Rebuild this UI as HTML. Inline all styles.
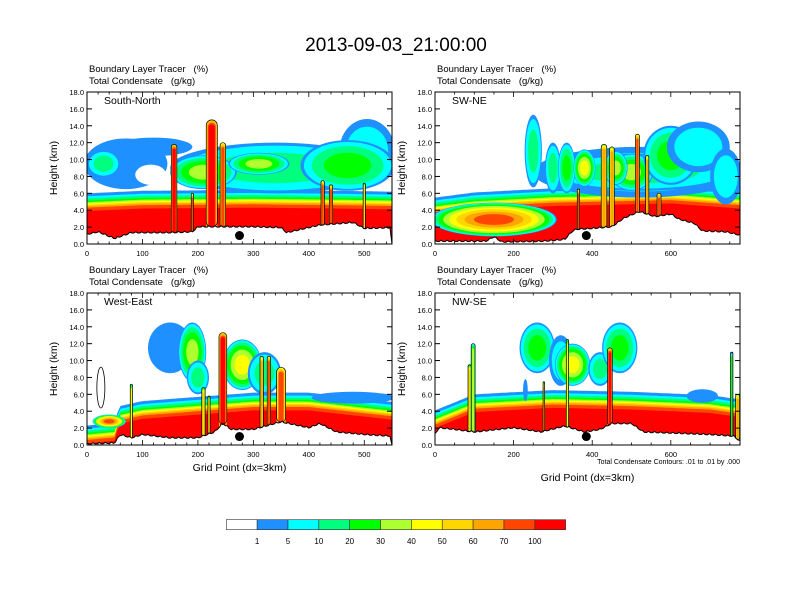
<!DOCTYPE html>
<html><head><meta charset="utf-8">
<style>
html,body{margin:0;padding:0;background:#fff;}
svg{display:block;font-family:"Liberation Sans",sans-serif;}
text{white-space:pre;}
</style></head>
<body>
<svg id="fig" width="792" height="612" viewBox="0 0 792 612" xmlns="http://www.w3.org/2000/svg">
<rect width="792" height="612" fill="#fff"/>
<text x="396" y="51" font-size="19" text-anchor="middle">2013-09-03_21:00:00</text>
<g id="panels"></g>
<g id="cbar"></g>
</svg>
<script>
const levelColors=["#ffffff","#1e90ff","#00ffff","#00ff7f","#00ff00","#adff2f","#ffff00","#ffd700","#ffa500","#ff4500","#ff0000"];
const cbarLabels=["1","5","10","20","30","40","50","60","70","100"];
const panelNames=["South-North","SW-NE","West-East","NW-SE"];
const panelXmax=[550,776,550,776];
// red boundary-layer top (grid, km)
const p1Pbl=[[0,3.9],[100,4.2],[300,4.3],[450,4.2],[550,4.1]];
const p2Pbl=[[0,3.4],[100,4.0],[300,4.5],[600,4.8],[776,4.2]];
const p3Pbl=[[0,0.2],[50,0.5],[58,2.5],[100,3.1],[200,3.6],[300,4.1],[400,4.1],[550,3.0]];
const p4Pbl=[[0,2.0],[100,3.9],[300,4.4],[500,4.2],[700,3.8],[776,3.3]];
// terrain (grid, km)
const p1Terrain=[[0,1.1],[20,1.4],[50,0.6],[80,1.3],[150,1.3],[190,1.4],[200,2.0],[300,2.0],[350,1.9],[360,1.3],[380,1.6],[420,2.2],[480,2.5],[500,1.8],[550,1.9]];
const p2Terrain=[[0,0.3],[130,0.3],[150,0.8],[170,0.2],[280,0.3],[330,0.5],[350,1.5],[360,1.7],[400,1.8],[450,2.0],[480,3.0],[520,3.8],[560,3.2],[600,3.5],[620,2.9],[660,2.4],[680,1.5],[740,1.4],[776,1.0]];
const p3Terrain=[[0,0.1],[50,0.2],[60,1.2],[80,0.8],[100,1.2],[150,0.8],[200,0.8],[230,1.5],[245,2.5],[260,1.8],[300,1.8],[350,2.7],[400,2.0],[420,2.5],[450,1.5],[500,1.2],[550,1.0]];
const p4Terrain=[[0,1.2],[10,2.0],[50,1.8],[100,1.5],[200,2.0],[270,1.5],[330,2.2],[380,1.5],[420,1.8],[450,2.5],[500,2.5],[530,1.5],[700,1.2],[760,1.0],[776,0.4]];
// cloud blobs: [x, z, half-width(grid), half-height(km), max level]
const p1Clouds=[[70,9.5,75,3,1],[120,11.5,70,1.1,1],[30,9.5,30,1.6,3],[340,9,190,3,3],[505,11,50,3.8,2],[470,9.3,85,3,4],[210,8.5,60,2,5],[310,9.5,55,1.3,5],[115,8.2,28,1.2,0]];
const p2Clouds=[[150,2.9,160,2.0,9],[520,8.5,270,3,2],[520,8.5,250,2.2,3],[250,11,22,4.3,3],[300,9,20,3,3],[335,9,22,3,4],[380,9,28,2.2,6],[500,8.5,55,2.2,5],[600,10.5,70,3.5,4],[670,11.5,80,3,2],[740,8,40,3.3,2],[460,9,30,2,5]];
const p3Clouds=[[150,11.5,40,3,1],[190,11,25,3.5,5],[200,8,20,2,3],[280,9.5,35,3,6],[320,8.5,30,2.5,3],[480,5.6,75,0.7,1],[40,2.8,30,0.8,9]];
const p4Clouds=[[260,11.5,45,3,4],[320,10,30,3,2],[350,9.5,45,2.5,6],[420,9,30,2,3],[470,11.5,45,3,4],[680,5.8,40,0.8,1],[230,6.5,6,1.3,1]];
// convective columns: [x, top km, half-width(grid), level]
const p1Cols=[[157,11.8,5,10],[225,14.7,10,10],[245,12,5,9],[190,6,2,9],[425,7.5,3,9],[440,7,3,9],[500,7.2,2,7]];
const p2Cols=[[430,11.8,7,8],[450,11.5,6,8],[515,13,5,9],[540,10.5,4,8],[365,6.5,3,9],[570,6,5,9]];
const p3Cols=[[245,13.3,7,10],[315,10.5,3,8],[328,10.5,3,9],[350,9.2,8,9],[210,6.8,3,7],[220,5.8,2,7],[80,7.2,2,6]];
const p4Cols=[[97,12,5,5],[88,9.5,4,7],[277,7.5,2,7],[337,12.5,3,6],[445,11.5,6,10],[755,11,3,4],[770,6,5,8]];
const dotX=[275,385,275,385];
const pbls=[p1Pbl,p2Pbl,p3Pbl,p4Pbl],terrs=[p1Terrain,p2Terrain,p3Terrain,p4Terrain],clouds=[p1Clouds,p2Clouds,p3Clouds,p4Clouds],cols=[p1Cols,p2Cols,p3Cols,p4Cols];

const NS="http://www.w3.org/2000/svg";
function mk(tag,attrs,parent){const e=document.createElementNS(NS,tag);for(const k in attrs)e.setAttribute(k,attrs[k]);parent.appendChild(e);return e;}
function interp(arr,x){if(x<=arr[0][0])return arr[0][1];for(let i=1;i<arr.length;i++){if(x<=arr[i][0]){const t=(x-arr[i-1][0])/(arr[i][0]-arr[i-1][0]);return arr[i-1][1]+t*(arr[i][1]-arr[i-1][1]);}}return arr[arr.length-1][1];}
const bandOffsets=[2.1,1.75,1.5,1.25,1.05,0.9,0.75,0.6,0.4,0]; // levels 1..10
const boxes=[[87,92],[435,92],[87,293],[435,293]];
const PW=305,PH=152;
const root=document.getElementById('panels');
for(let p=0;p<4;p++){
  const [x0,y0]=boxes[p],xmax=panelXmax[p];
  const X=v=>x0+v/xmax*PW, Y=z=>y0+PH-z/18*PH;
  const g=mk('g',{},root);
  
  
  const cp=mk('clipPath',{id:'clip'+p},g);
  mk('rect',{x:x0,y:y0,width:PW,height:PH},cp);
  const pg=mk('g',{'clip-path':'url(#clip'+p+')'},g);
  for(let L=1;L<=10;L++){
    let d='M'+X(0)+','+Y(0);
    for(let v=0;v<=xmax;v+=xmax/100){d+=' L'+X(v).toFixed(1)+','+Y(interp(pbls[p],v)+bandOffsets[L-1]).toFixed(1);}
    d+=' L'+X(xmax)+','+Y(0)+'Z';
    const b=mk('path',{d:d,fill:levelColors[L]},pg);
    
    
  }
  clouds[p].forEach(c=>{
    const [cx,cz,hw,hh,lv]=c;
    const n=Math.max(lv,1);
    for(let i=(lv===0?0:1);i<=lv;i++){
      const f=lv===0?0:(i-1)/n;
      const s=1-f*f*0.75-f*0.1;
      const e=mk('ellipse',{cx:X(cx),cy:Y(cz),rx:hw/xmax*PW*s,ry:hh/18*PH*s,fill:levelColors[i]},pg);
      
      
    }
  });
  cols[p].forEach(c=>{
    const [cx,top,hw,lv]=c;
    const start=Math.max(1,lv-3);
    for(let i=start;i<=lv;i++){
      const s=1-(i-start)/(lv-start+1)*0.6;
      const w=hw/xmax*PW*s,t=top-(1-s)*1.2;
      const r=mk('rect',{x:X(cx)-w,y:Y(t),width:2*w,height:Y(0)-Y(t),rx:w,fill:levelColors[i]},pg);
      
      
    }
    const w=hw/xmax*PW;
    const o=mk('rect',{x:X(cx)-w,y:Y(top),width:2*w,height:Y(interp(terrs[p],cx))-Y(top),rx:w,fill:'none',stroke:'#000','stroke-width':0.7},pg);
    
    
  });
  let td='M'+X(0)+','+Y(0);
  for(let v=0;v<=xmax;v+=xmax/150){td+=' L'+X(v).toFixed(1)+','+Y(interp(terrs[p],v)+((Math.round(v/xmax*150)%3)===0?0.15:0)).toFixed(1);}
  td+=' L'+X(xmax)+','+Y(0)+'Z';
  const tp=mk('path',{d:td,fill:'#fff',stroke:'#000','stroke-width':1},pg);
  
  
  const dot=mk('circle',{cx:X(dotX[p]),cy:Y(1.0),r:4.5,fill:'#000'},g);
  
  
  if(p===2){const el=mk('ellipse',{cx:X(25),cy:Y(6.8),rx:4,ry:Y(4.5)-Y(6.8)+1,fill:'none',stroke:'#000','stroke-width':0.8},g);
    
    }
  const fr=mk('rect',{x:x0,y:y0,width:PW,height:PH,fill:'none',stroke:'#000','stroke-width':1},g);
  
  
  for(let z=0;z<=18;z+=2){
    const yy=Y(z);
    mk('line',{x1:x0,y1:yy,x2:x0+5,y2:yy,stroke:'#000'},g);
    mk('line',{x1:x0+PW,y1:yy,x2:x0+PW-5,y2:yy,stroke:'#000'},g);
    const t=mk('text',{x:x0-3,y:yy+3,'font-size':7.5,'text-anchor':'end'},g);t.textContent=z.toFixed(1);
    
    
  }
  const maj=xmax>600?200:100,mn=xmax>600?50:20;
  for(let v=0;v<=xmax;v+=mn){
    const xx=X(v),L=(v%maj===0)?5:2.5;
    mk('line',{x1:xx,y1:y0+PH,x2:xx,y2:y0+PH-L,stroke:'#000','stroke-width':0.8},g);
    mk('line',{x1:xx,y1:y0,x2:xx,y2:y0+L,stroke:'#000','stroke-width':0.8},g);
    if(v%maj===0){const t=mk('text',{x:xx,y:y0+PH+12,'font-size':7.5,'text-anchor':'middle'},g);t.textContent=v;
      
      }
  }
  const yl=mk('text',{x:0,y:0,'font-size':10.5,'text-anchor':'middle',transform:'translate('+(x0-30)+','+(y0+PH/2)+') rotate(-90)'},g);yl.textContent='Height (km)';
  
  
  const h1=mk('text',{x:x0+2,y:y0-20,'font-size':9.5},g);h1.textContent='Boundary Layer Tracer   (%)';
  
  
  const h2=mk('text',{x:x0+2,y:y0-8,'font-size':9.5},g);h2.textContent='Total Condensate   (g/kg)';
  
  
  const nm=mk('text',{x:x0+17,y:y0+12,'font-size':10.5},g);nm.textContent=panelNames[p];
  
  
  if(p>=2){const xt=mk('text',{x:x0+PW/2,y:p===2?y0+PH+26:y0+PH+36,'font-size':10.5,'text-anchor':'middle'},g);xt.textContent='Grid Point (dx=3km)';
    
    }
  if(p===3){const ct=mk('text',{x:x0+PW,y:y0+PH+19,'font-size':7,'text-anchor':'end'},g);ct.textContent='Total Condensate Contours: .01 to .01 by .000';
    
    }
}
const cb=document.getElementById('cbar');
const cbx=226.3,cbw=30.85;
for(let i=0;i<11;i++){
  const r=mk('rect',{x:cbx+i*cbw,y:519.7,width:cbw,height:10,fill:levelColors[i],stroke:'#333','stroke-width':0.6},cb);
  
  
}
cbarLabels.forEach((l,i)=>{
  const t=mk('text',{x:cbx+(i+1)*cbw,y:544,'font-size':8,'text-anchor':'middle'},cb);t.textContent=l;
  
  
});
</script>
</body></html>
